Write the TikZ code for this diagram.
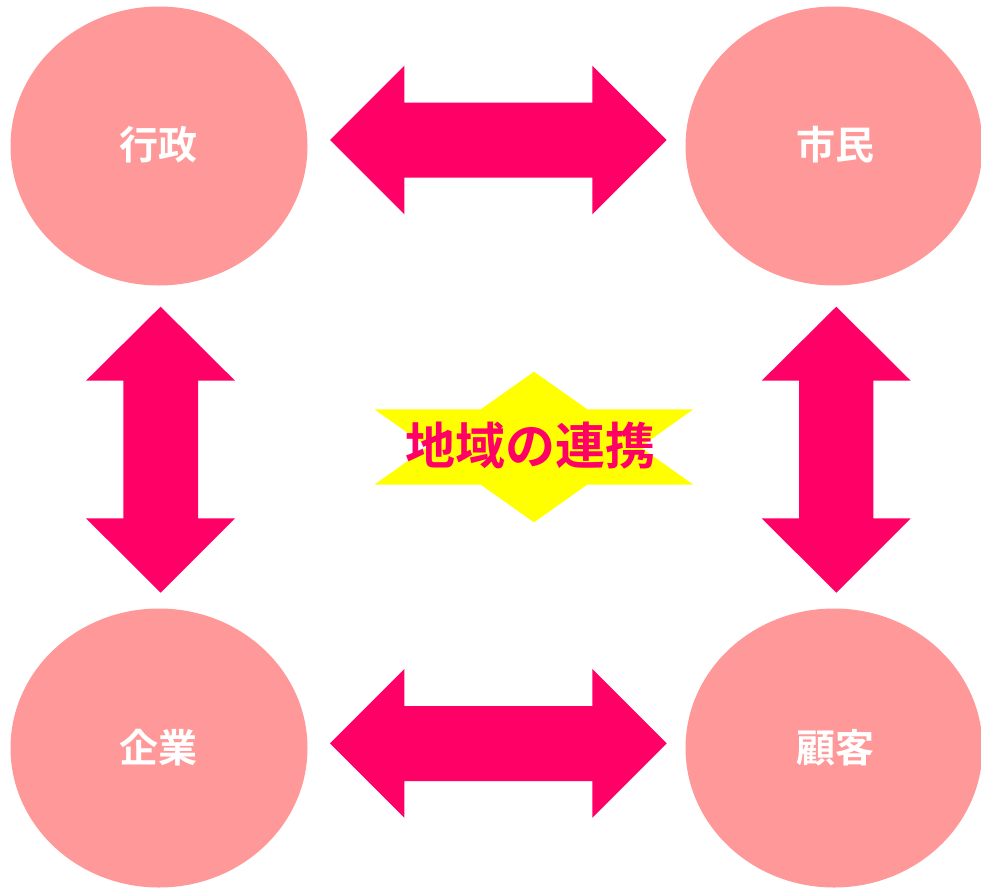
\documentclass[tikz,border=0pt]{standalone}
\usepackage{fontspec}
\newfontfamily\cjk[BoldFont={Noto Sans CJK JP Bold}]{Noto Sans CJK JP}
\definecolor{circfill}{HTML}{FF9999}
\definecolor{arrowpink}{HTML}{FF0066}
\definecolor{staryellow}{HTML}{FFFF00}
\usetikzlibrary{shapes.geometric}
\tikzset{
  circ/.style={fill=circfill, draw=none, ellipse, minimum width=297pt, minimum height=279pt, inner sep=0pt},
  circlabel/.style={text=white, font=\cjk\bfseries\fontsize{39pt}{44pt}\selectfont, inner sep=0pt},
  blockarrow/.style={fill=arrowpink, draw=none},
  starshape/.style={fill=staryellow, draw=none},
  centerlabel/.style={text=arrowpink, font=\cjk\bfseries\fontsize{50pt}{56pt}\selectfont, inner sep=0pt}
}
\begin{document}
\begin{tikzpicture}[x=1pt,y=-1pt]
\useasboundingbox (0,0) rectangle (981,888);
% circles
\node[circ] (gyosei) at (159,146) {};
\node[circ] (shimin) at (834,146) {};
\node[circ] (kigyo) at (159,748) {};
\node[circ] (kokyaku) at (834,748) {};
\node[circlabel] at (158,145) {行政};
\node[circlabel] at (835,145) {市民};
\node[circlabel] at (158,748) {企業};
\node[circlabel] at (835,748) {顧客};
% horizontal double arrows
\fill[blockarrow] (330,140) -- (404.3,65.7) -- (404.3,102.7) -- (592.3,102.7) -- (592.3,65.7)
  -- (666.7,140) -- (592.3,214.3) -- (592.3,177.7) -- (404.3,177.7) -- (404.3,214.3) -- cycle;
\fill[blockarrow] (330,743.3) -- (404.3,669) -- (404.3,706) -- (592.3,706) -- (592.3,669)
  -- (666.7,743.3) -- (592.3,817.7) -- (592.3,781) -- (404.3,781) -- (404.3,817.7) -- cycle;
% vertical double arrows
\fill[blockarrow] (160.6,306.7) -- (235,380.7) -- (198,380.7) -- (198,518.3) -- (235,518.3)
  -- (160.6,592.7) -- (86,518.3) -- (123.3,518.3) -- (123.3,380.7) -- (86,380.7) -- cycle;
\fill[blockarrow] (836.3,306.7) -- (910.7,380.7) -- (873.3,380.7) -- (873.3,518.3) -- (910.7,518.3)
  -- (836.3,592.7) -- (761.7,518.3) -- (799,518.3) -- (799,380.7) -- (761.7,380.7) -- cycle;
% central star (hexagram)
\fill[starshape] (534,371.7) -- (587.2,409.3) -- (693.3,409.3) -- (640.3,447) -- (693.3,484.7)
  -- (587.2,484.7) -- (534,522.3) -- (480.8,484.7) -- (374.3,484.7) -- (427.7,447)
  -- (374.3,409.3) -- (480.8,409.3) -- cycle;
\node[centerlabel] (renkei) at (530,446) {地域の連携};
\end{tikzpicture}
\end{document}
